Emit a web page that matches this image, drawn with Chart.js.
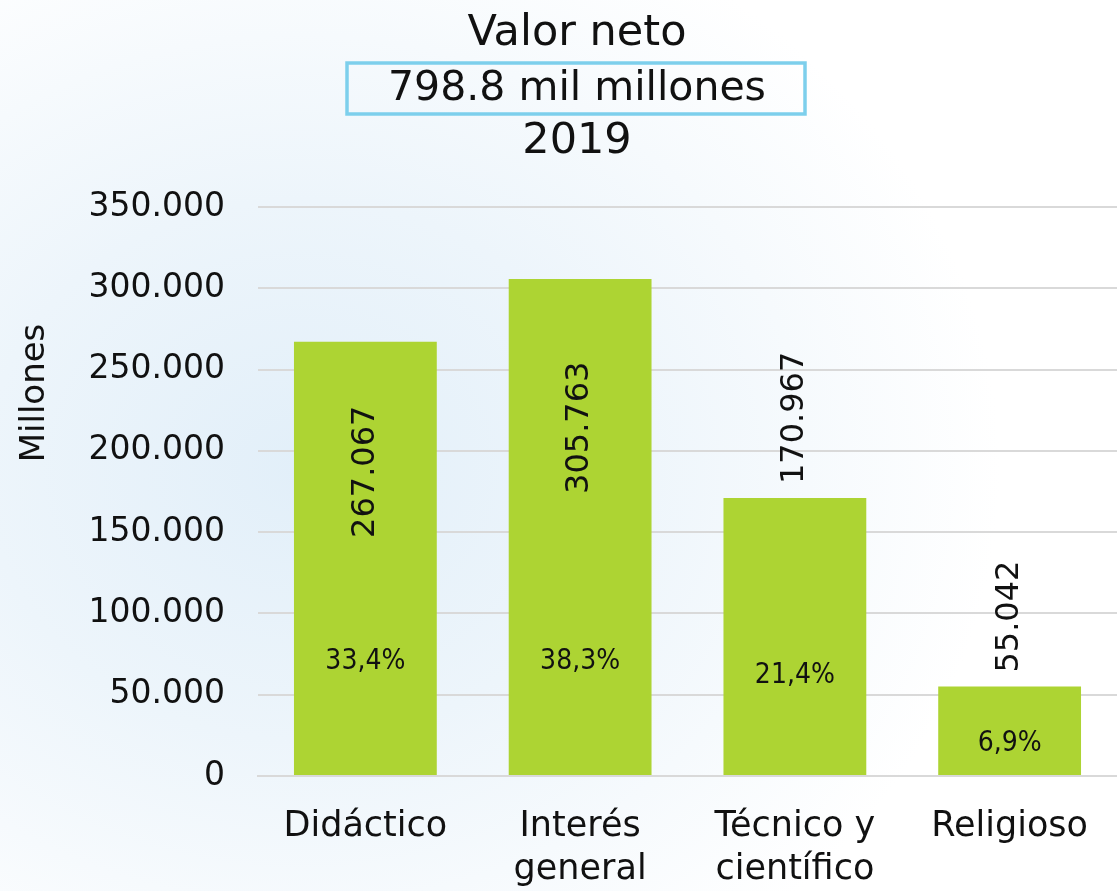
<!DOCTYPE html>
<html>
<head>
<meta charset="utf-8">
<script src="https://cdn.jsdelivr.net/npm/chart.js@4"></script>
<style>
  html, body { margin: 0; padding: 0; }
  body {
    width: 1117px; height: 891px; overflow: hidden;
    background: radial-gradient(ellipse 700px 600px at 300px 470px, #e2eff9 0%, #edf5fb 45%, #ffffff 100%);
  }
  #chart { display: block; }
</style>
</head>
<body>
<canvas id="chart" width="1117" height="891"></canvas>
<script>
const categories = [['Didáctico'], ['Interés', 'general'], ['Técnico y', 'científico'], ['Religioso']];
const valores    = [267067, 305763, 170967, 55042];
const porcentajes = ['33,4%', '38,3%', '21,4%', '6,9%'];
const valorInside = [true, true, false, false];
const yTicks     = [0, 50000, 100000, 150000, 200000, 250000, 300000, 350000];

const FONT = "'DejaVu Sans', sans-serif";
const fmt = v => v.toLocaleString('de-DE');

const headerPlugin = {
  id: 'header',
  afterDraw(chart) {
    const ctx = chart.ctx;
    const cx = 577;
    ctx.save();
    ctx.fillStyle = '#111';
    ctx.textAlign = 'center';
    ctx.textBaseline = 'middle';
    ctx.font = '43px ' + FONT;
    ctx.fillText('Valor neto', cx, 34);
    ctx.strokeStyle = '#7dcfec';
    ctx.lineWidth = 3.5;
    ctx.strokeRect(347, 63, 458, 51);
    ctx.font = '41px ' + FONT;
    ctx.fillText('798.8 mil millones', cx, 89);
    ctx.font = '43px ' + FONT;
    ctx.fillText('2019', cx, 142);
    // y axis title
    ctx.save();
    ctx.translate(35, 393);
    ctx.rotate(-Math.PI / 2);
    ctx.font = '34px ' + FONT;
    ctx.fillText('Millones', 0, 0);
    ctx.restore();
    ctx.restore();
  }
};

const labelPlugin = {
  id: 'barLabels',
  afterDatasetsDraw(chart) {
    const ctx = chart.ctx;
    const meta = chart.getDatasetMeta(0);
    const y = chart.scales.y;
    ctx.save();
    ctx.fillStyle = '#111';
    meta.data.forEach((bar, i) => {
      const v = valores[i];
      // value label, rotated
      ctx.save();
      ctx.font = '32px ' + FONT;
      ctx.textBaseline = 'middle';
      if (valorInside[i]) {
        const cy = bar.y + (bar.base - bar.y) * 0.3;
        ctx.translate(bar.x, cy);
        ctx.rotate(-Math.PI / 2);
        ctx.textAlign = 'center';
      } else {
        ctx.translate(bar.x, bar.y - 14);
        ctx.rotate(-Math.PI / 2);
        ctx.textAlign = 'left';
      }
      ctx.fillText(fmt(v), 0, 0);
      ctx.restore();
      // percentage label
      ctx.font = "28px 'DejaVu Sans Condensed', " + FONT;
      ctx.textAlign = 'center';
      ctx.textBaseline = 'middle';
      const py = y.getPixelForValue(Math.min(v * 0.36, 70000));
      ctx.fillText(porcentajes[i], bar.x, py);
    });
    ctx.restore();
  }
};

new Chart(document.getElementById('chart'), {
  type: 'bar',
  data: {
    labels: categories,
    datasets: [{
      data: valores,
      backgroundColor: '#add433',
      borderWidth: 0,
      barPercentage: 0.665,
      categoryPercentage: 1
    }]
  },
  options: {
    responsive: false,
    animation: false,
    layout: { padding: { top: 207, right: 0, bottom: 0, left: 0 } },
    plugins: { legend: { display: false }, tooltip: { enabled: false }, title: { display: false } },
    scales: {
      x: {
        grid: { display: false, drawTicks: false },
        border: { display: true, color: '#d9d9d9', width: 2 },
        ticks: { color: '#111', font: { family: FONT, size: 35, lineHeight: 1.24 }, padding: 29, maxRotation: 0 },
        afterFit: s => { s.height = 115; }
      },
      y: {
        min: 0, max: 350000,
        afterBuildTicks: s => { s.ticks = yTicks.map(v => ({ value: v })); },
        grid: { color: '#d9d9d9', lineWidth: 2, drawTicks: false },
        border: { display: false },
        ticks: { color: '#111', font: { family: FONT, size: 33 }, padding: 33, callback: v => fmt(v) },
        afterFit: s => { s.width = 258; }
      }
    }
  },
  plugins: [headerPlugin, labelPlugin]
});
</script>
</body>
</html>
